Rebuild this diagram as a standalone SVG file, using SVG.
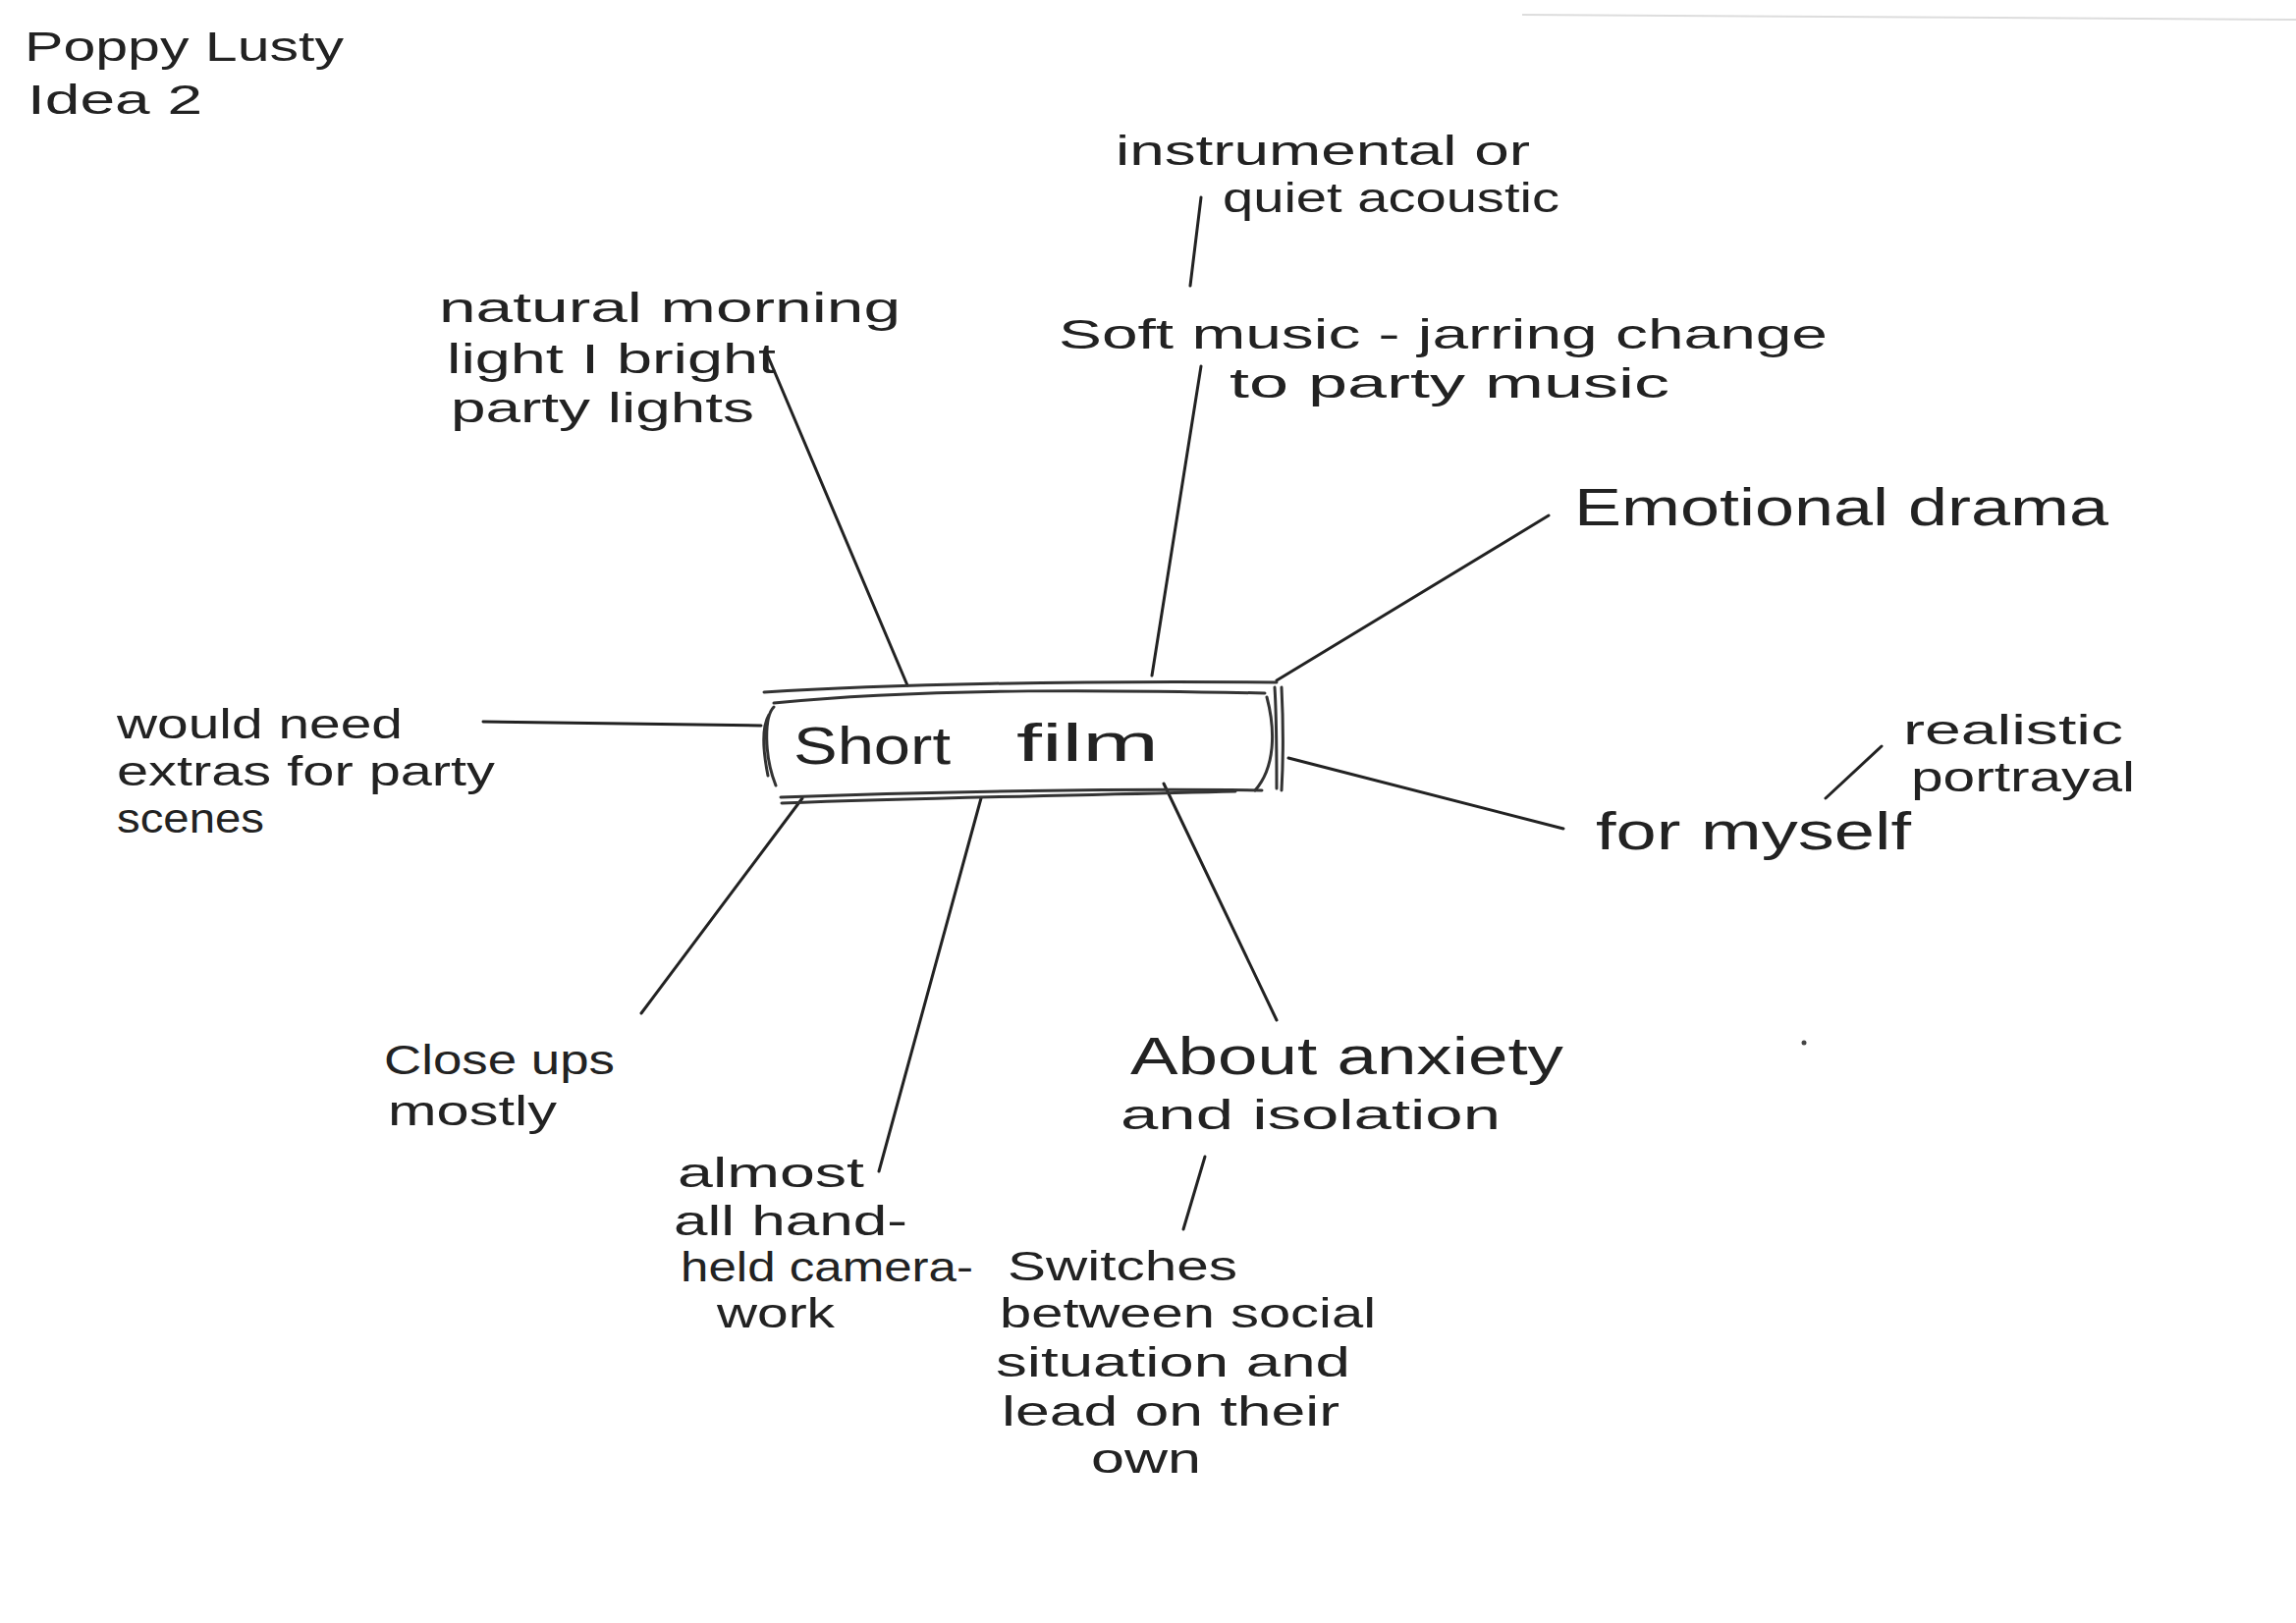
<svg xmlns="http://www.w3.org/2000/svg" width="2338" height="1653" viewBox="0 0 2338 1653">
<style>
.t{font-family:"Liberation Sans","DejaVu Sans",sans-serif;font-size:42px;fill:#222}
.big{font-size:54px}
.c{stroke:#222;stroke-width:3;fill:none;stroke-linecap:round}
.b{stroke:#333;stroke-width:3;fill:none;stroke-linecap:round}
</style>
<rect width="2338" height="1653" fill="#fff"/>
<line x1="1550" y1="15" x2="2338" y2="20" stroke="#ddd" stroke-width="2"/>
<g id="title">
<text class="t" x="25" y="62" textLength="325" lengthAdjust="spacingAndGlyphs">Poppy Lusty</text>
<text class="t" x="28" y="116" textLength="178" lengthAdjust="spacingAndGlyphs">Idea 2</text>
</g>
<g id="connectors">
<line class="c" x1="1223" y1="201" x2="1212" y2="291"/>
<line class="c" x1="1223" y1="373" x2="1173" y2="688"/>
<line class="c" x1="780" y1="358" x2="924" y2="698"/>
<line class="c" x1="1577" y1="525" x2="1300" y2="693"/>
<line class="c" x1="492" y1="735" x2="775" y2="739"/>
<line class="c" x1="1312" y1="772" x2="1592" y2="844"/>
<line class="c" x1="1916" y1="760" x2="1859" y2="813"/>
<line class="c" x1="817" y1="813" x2="653" y2="1032"/>
<line class="c" x1="999" y1="813" x2="895" y2="1193"/>
<line class="c" x1="1185" y1="798" x2="1300" y2="1039"/>
<line class="c" x1="1227" y1="1178" x2="1205" y2="1252"/>
</g>
<g id="short-film">
<path class="b" d="M778 705 C900 697 1100 693 1300 695"/>
<path class="b" d="M788 716 C950 700 1150 703 1288 706"/>
<path class="b" d="M795 812 C950 806 1150 803 1285 805"/>
<path class="b" d="M796 818 C960 812 1100 810 1258 806"/>
<path class="b" d="M788 720 C778 730 778 770 790 800 M783 728 C776 740 776 760 782 790"/>
<path class="b" d="M1298 700 C1300 730 1300 770 1300 803 M1305 700 C1307 740 1307 770 1305 805 M1290 710 C1298 740 1300 780 1278 805"/>
<text class="t big" x="808" y="778" textLength="160" lengthAdjust="spacingAndGlyphs">Short</text>
<text class="t big" x="1035" y="775" textLength="145" lengthAdjust="spacingAndGlyphs">film</text>
</g>
<g id="music-alt">
<text class="t" x="1136" y="168" textLength="422" lengthAdjust="spacingAndGlyphs">instrumental or</text>
<text class="t" x="1245" y="216" textLength="343" lengthAdjust="spacingAndGlyphs">quiet acoustic</text>
</g>
<g id="music">
<text class="t" x="1078" y="355" textLength="783" lengthAdjust="spacingAndGlyphs">Soft music - jarring change</text>
<text class="t" x="1252" y="405" textLength="448" lengthAdjust="spacingAndGlyphs">to party music</text>
</g>
<g id="lighting">
<text class="t" x="447" y="328" textLength="470" lengthAdjust="spacingAndGlyphs">natural morning</text>
<text class="t" x="455" y="380" textLength="335" lengthAdjust="spacingAndGlyphs">light I bright</text>
<text class="t" x="459" y="430" textLength="309" lengthAdjust="spacingAndGlyphs">party lights</text>
</g>
<g id="genre">
<text class="t big" x="1603" y="535" textLength="544" lengthAdjust="spacingAndGlyphs">Emotional drama</text>
</g>
<g id="extras">
<text class="t" x="119" y="752" textLength="291" lengthAdjust="spacingAndGlyphs">would need</text>
<text class="t" x="119" y="800" textLength="385" lengthAdjust="spacingAndGlyphs">extras for party</text>
<text class="t" x="119" y="848" textLength="150" lengthAdjust="spacingAndGlyphs">scenes</text>
</g>
<g id="audience">
<text class="t big" x="1625" y="865" textLength="321" lengthAdjust="spacingAndGlyphs">for myself</text>
</g>
<g id="realistic">
<text class="t" x="1938" y="758" textLength="224" lengthAdjust="spacingAndGlyphs">realistic</text>
<text class="t" x="1946" y="806" textLength="228" lengthAdjust="spacingAndGlyphs">portrayal</text>
</g>
<circle cx="1837" cy="1062" r="2.5" fill="#444"/>
<g id="close-ups">
<text class="t" x="391" y="1094" textLength="235" lengthAdjust="spacingAndGlyphs">Close ups</text>
<text class="t" x="395" y="1146" textLength="172" lengthAdjust="spacingAndGlyphs">mostly</text>
</g>
<g id="handheld">
<text class="t" x="690" y="1209" textLength="190" lengthAdjust="spacingAndGlyphs">almost</text>
<text class="t" x="686" y="1258" textLength="238" lengthAdjust="spacingAndGlyphs">all hand-</text>
<text class="t" x="693" y="1305" textLength="298" lengthAdjust="spacingAndGlyphs">held camera-</text>
<text class="t" x="730" y="1352" textLength="120" lengthAdjust="spacingAndGlyphs">work</text>
</g>
<g id="about">
<text class="t big" x="1151" y="1094" textLength="441" lengthAdjust="spacingAndGlyphs">About anxiety</text>
<text class="t" x="1141" y="1150" textLength="387" lengthAdjust="spacingAndGlyphs">and isolation</text>
</g>
<g id="switches">
<text class="t" x="1026" y="1304" textLength="234" lengthAdjust="spacingAndGlyphs">Switches</text>
<text class="t" x="1018" y="1352" textLength="383" lengthAdjust="spacingAndGlyphs">between social</text>
<text class="t" x="1014" y="1402" textLength="361" lengthAdjust="spacingAndGlyphs">situation and</text>
<text class="t" x="1020" y="1452" textLength="344" lengthAdjust="spacingAndGlyphs">lead on their</text>
<text class="t" x="1111" y="1500" textLength="112" lengthAdjust="spacingAndGlyphs">own</text>
</g>
</svg>
